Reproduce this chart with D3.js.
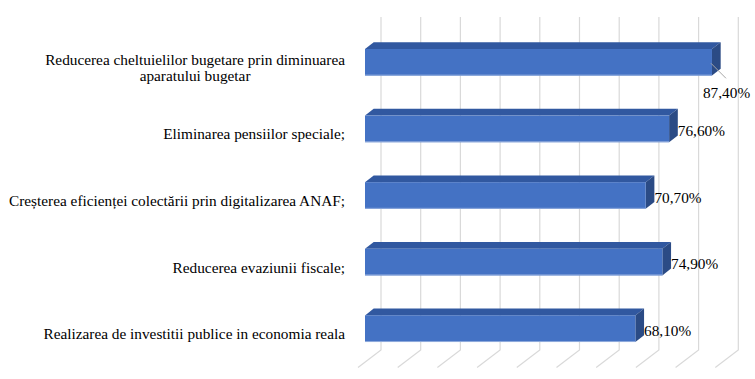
<!DOCTYPE html>
<html><head><meta charset="utf-8">
<script src="https://cdn.jsdelivr.net/npm/d3@7"></script>
<style>html,body{margin:0;padding:0;background:#fff;}svg{display:block;}
svg text{font-family:"Liberation Serif","Times New Roman",Tinos,"DejaVu Serif",serif;}</style>
</head><body>
<svg id="chart" width="755" height="379"></svg>
<script>
const categories = [
  "Reducerea cheltuielilor bugetare prin diminuarea aparatului bugetar",
  "Eliminarea pensiilor speciale;",
  "Creșterea eficienței colectării prin digitalizarea ANAF;",
  "Reducerea evaziunii fiscale;",
  "Realizarea de investitii publice in economia reala"
];
const values = [87.4, 76.6, 70.7, 74.9, 68.1];
const valueLabels = ["87,40%", "76,60%", "70,70%", "74,90%", "68,10%"];
const gridTicks = [0, 10, 20, 30, 40, 50, 60, 70, 80, 90];

const W = 755, H = 379;
const svg = d3.select("#chart");
const fs = 15.3;

const x = d3.scaleLinear().domain([0, 90]).range([365, 722.3]);
const y = d3.scaleBand().domain(categories).range([29, 362]).paddingInner(0.6).paddingOuter(0.3);

const backDx = 16, wallTop = 17, wallBottom = 350;
const floorDx = -23, floorDy = 17.5;
const depthDx = 8.7, depthDy = -6.8;

// gridlines: back wall verticals + floor diagonals
const g = svg.append("g");
gridTicks.forEach(t => {
  const xb = x(t) + backDx;
  g.append("path")
    .attr("d", `M${xb},${wallTop}L${xb},${wallBottom}L${xb + floorDx},${wallBottom + floorDy}`)
    .attr("fill", "none").attr("stroke", "#d9d9d9").attr("stroke-width", 1.2);
});

// bars
const bars = svg.append("g");
categories.forEach((c, i) => {
  const x0 = x(0), x1 = x(values[i]);
  const y0 = y(c), h = y.bandwidth();
  bars.append("path")
    .attr("d", `M${x0},${y0}L${x0 + depthDx},${y0 + depthDy}L${x1 + depthDx},${y0 + depthDy}L${x1},${y0}Z`)
    .attr("fill", "#3158a0");
  bars.append("path")
    .attr("d", `M${x1},${y0}L${x1 + depthDx},${y0 + depthDy}L${x1 + depthDx},${y0 + h + depthDy}L${x1},${y0 + h}Z`)
    .attr("fill", "#2b4b85");
  bars.append("rect")
    .attr("x", x0).attr("y", y0).attr("width", x1 - x0).attr("height", h)
    .attr("fill", "#4472c4");
  bars.append("line")
    .attr("x1", x0).attr("x2", x1).attr("y1", y0 + h - 0.5).attr("y2", y0 + h - 0.5)
    .attr("stroke", "#8faadc").attr("stroke-width", 1);
});

// category labels
const labelRight = 345, maxW = 340, lineH = 16;
const lg = svg.append("g").attr("font-size", fs).attr("fill", "#000");
categories.forEach((c, i) => {
  const words = c.split(" ");
  const lines = [];
  let cur = "";
  const tmp = lg.append("text");
  words.forEach(w => {
    const test = cur ? cur + " " + w : w;
    tmp.text(test);
    if (tmp.node().getComputedTextLength() > maxW && cur) { lines.push(cur); cur = w; }
    else cur = test;
  });
  lines.push(cur);
  const widths = lines.map(l => { tmp.text(l); return tmp.node().getComputedTextLength(); });
  tmp.remove();
  const mw = d3.max(widths);
  const cy = y(c) + y.bandwidth() / 2 + 5.5;
  const cx = labelRight - mw / 2;
  const t = lg.append("text").attr("text-anchor", "middle");
  lines.forEach((l, k) => {
    t.append("tspan").attr("x", cx)
      .attr("y", cy + (k - (lines.length - 1) / 2) * lineH + 5)
      .text(l);
  });
});

// value labels
const vg = svg.append("g").attr("font-size", fs).attr("fill", "#000");
categories.forEach((c, i) => {
  const x1 = x(values[i]);
  const cy = y(c) + y.bandwidth() / 2;
  const t = vg.append("text").text(valueLabels[i]);
  const tw = t.node().getComputedTextLength();
  if (x1 + depthDx + tw > W - 4) {
    vg.append("line")
      .attr("x1", x1 - 1).attr("y1", cy + 1)
      .attr("x2", x1 + 14).attr("y2", cy + 16)
      .attr("stroke", "#a6a6a6").attr("stroke-width", 1);
    t.attr("x", x1 - 9).attr("y", cy + 36);
  } else {
    t.attr("x", x1 + depthDx).attr("y", cy + 7);
  }
});
</script>
</body></html>
